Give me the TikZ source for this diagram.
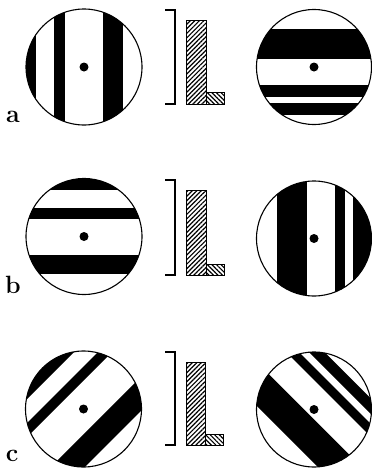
\documentclass[tikz,border=0pt]{standalone}
\usetikzlibrary{patterns.meta}
\newcommand{\ubandfill}[2]{\fill ({(#1-90)*0.7071},{(#1+90)*0.7071}) -- ({(#1+90)*0.7071},{(#1-90)*0.7071}) -- ({(#2+90)*0.7071},{(#2-90)*0.7071}) -- ({(#2-90)*0.7071},{(#2+90)*0.7071}) -- cycle;}
\newcommand{\vbandfill}[2]{\fill ({(#1-90)*0.7071},{(-#1-90)*0.7071}) -- ({(#1+90)*0.7071},{(-#1+90)*0.7071}) -- ({(#2+90)*0.7071},{(-#2+90)*0.7071}) -- ({(#2-90)*0.7071},{(-#2-90)*0.7071}) -- cycle;}
\tikzset{
  disk/.style={circle, draw, line width=1.1pt, minimum size=116pt, inner sep=0pt},
  rdisk/.style={circle, draw, line width=1.1pt, minimum size=115pt, inner sep=0pt},
  dot/.style={circle, fill, minimum size=9pt, inner sep=0pt},
  lbl/.style={font=\fontsize{25}{25}\selectfont\bfseries, inner sep=0pt},
  brk/.style={line width=1.2pt},
  tallbar/.style={draw, line width=0.9pt, pattern={Lines[angle=45,distance=3.2pt,line width=1.2pt]}},
  footbar/.style={draw, line width=0.9pt, pattern={Lines[angle=-45,distance=3.2pt,line width=1.2pt]}},
}
\begin{document}
\begin{tikzpicture}[x=1pt,y=-1pt]
\useasboundingbox (0,0) rectangle (372,469);
% ---------- row a ----------
\node[disk, path picture={
  \begin{scope}[shift={(path picture bounding box.center)}]
    \fill (-70,-70) rectangle (-48,70);
    \fill (-30,-70) rectangle (-19,70);
    \fill (19,-70) rectangle (39,70);
  \end{scope}}] (a1) at (84,67) {};
\node[dot] (a1d) at (a1.center) {};
\node[rdisk, path picture={
  \begin{scope}[shift={(path picture bounding box.center)}]
    \fill (-70,-38) rectangle (70,-8);
    \fill (-70,18) rectangle (70,30);
    \fill (-70,36) rectangle (70,48);
  \end{scope}}] (a2) at (314,67) {};
\node[dot] (a2d) at (a2.center) {};
\node[lbl] (la) at (13,117) {a};
\coordinate (ba1) at (165,10);
\coordinate (ba2) at (165,104);
\draw[brk] (ba1) -- ++(10,0) |- (ba2);
\draw[tallbar] (186,20) rectangle (206,104);
\draw[footbar] (206,92) rectangle (224,104);
% ---------- row b ----------
\node[disk, path picture={
  \begin{scope}[shift={(path picture bounding box.center)}]
    \fill (-70,-70) rectangle (70,-46.5);
    \fill (-70,-28.5) rectangle (70,-17.5);
    \fill (-70,18.5) rectangle (70,37.5);
  \end{scope}}] (b1) at (84,236.5) {};
\node[dot] (b1d) at (b1.center) {};
\node[rdisk, path picture={
  \begin{scope}[shift={(path picture bounding box.center)}]
    \fill (-37,-70) rectangle (-7,70);
    \fill (21,-70) rectangle (31,70);
    \fill (39,-70) rectangle (70,70);
  \end{scope}}] (b2) at (314,238.5) {};
\node[dot] (b2d) at (b2.center) {};
\node[lbl] (lb) at (13,285) {b};
\coordinate (bb1) at (165,180);
\coordinate (bb2) at (165,275);
\draw[brk] (bb1) -- ++(10,0) |- (bb2);
\draw[tallbar] (186,190) rectangle (206,275);
\draw[footbar] (206,264) rectangle (224,275);
% ---------- row c ----------
\node[disk, path picture={
  \begin{scope}[shift={(path picture bounding box.center)}]
    \ubandfill{-80}{-47}
    \ubandfill{-30}{-20}
    \ubandfill{18}{42}
  \end{scope}}] (c1) at (83.5,409) {};
\node[dot] (c1d) at (c1.center) {};
\node[rdisk, path picture={
  \begin{scope}[shift={(path picture bounding box.center)}]
    \vbandfill{-38}{-7}
    \vbandfill{21}{30}
    \vbandfill{37}{48}
  \end{scope}}] (c2) at (314,409.5) {};
\node[dot] (c2d) at (c2.center) {};
\node[lbl] (lc) at (12,456) {c};
\coordinate (bc1) at (165,352);
\coordinate (bc2) at (165,445);
\draw[brk] (bc1) -- ++(10,0) |- (bc2);
\draw[tallbar] (186,362) rectangle (205,445);
\draw[footbar] (205,434) rectangle (223,445);
\end{tikzpicture}
\end{document}
